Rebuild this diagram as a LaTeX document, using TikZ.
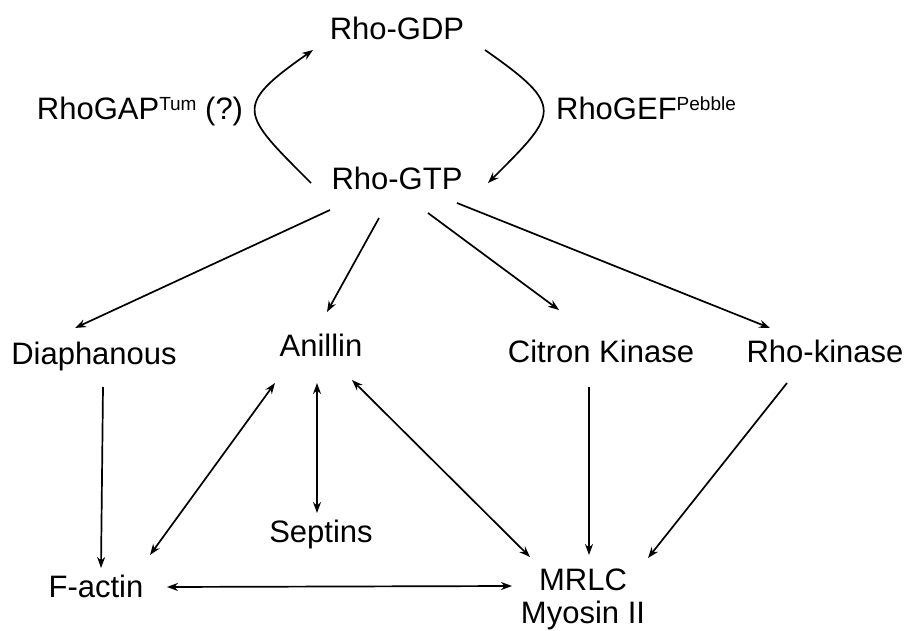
\documentclass[tikz,border=0pt]{standalone}
\usepackage{fontspec}
\setmainfont{Liberation Sans}
\usetikzlibrary{arrows.meta,positioning}

\newcommand{\suptag}[1]{\raisebox{9pt}{\fontsize{19}{19}\selectfont #1}}

\begin{document}
\begin{tikzpicture}[x=1pt,y=1pt,>={Stealth[length=11pt,width=8pt]},
  mol/.style={font=\fontsize{31}{33}\selectfont,inner sep=0pt,anchor=base},
  link/.style={line width=1.7pt}]

\useasboundingbox (0,0) rectangle (908,630);

% cycle
\node[mol] (gdp) at (397,590) {Rho-GDP};
\node[mol] (gtp) at (397,440) {Rho-GTP};
\node[mol] (gap) at (140,510) {RhoGAP\suptag{Tum} (?)};
\node[mol] (gef) at (646,510) {RhoGEF\suptag{Pebble}};

% effectors
\node[mol] (diaph) at (94,265) {Diaphanous};
\node[mol] (anillin) at (321,273) {Anillin};
\node[mol] (citron) at (601,267) {Citron Kinase};
\node[mol] (rhok) at (825,267) {Rho-kinase};

\node[mol] (septins) at (321,88) {Septins};
\node[mol] (factin) at (96,33) {F-actin};
\node[mol] (mrlc) at (583,40) {MRLC};
\node[mol,below=10pt of mrlc] (myosin) {Myosin II};

\draw[link,->] ([shift={(-86,7)}]gtp.base) to[out=135,in=215,looseness=1.9] ([shift={(-84,-10)}]gdp.base);
\draw[link,->] ([shift={(88,-10)}]gdp.base) to[out=-35,in=45,looseness=1.9] ([shift={(91,7)}]gtp.base);

\draw[link,->] ([shift={(-67,-20)}]gtp.base) -- ([shift={(-19,37)}]diaph.base);
\draw[link,->] ([shift={(-18,-28)}]gtp.base) -- ([shift={(6,45)}]anillin.base);
\draw[link,->] ([shift={(31,-23)}]gtp.base) -- ([shift={(-42,53)}]citron.base);
\draw[link,->] ([shift={(60,-13)}]gtp.base) -- ([shift={(-55,35)}]rhok.base);

\draw[link,->] ([shift={(9,-22)}]diaph.base) -- ([shift={(5,29)}]factin.base);
\draw[link,<->] ([shift={(-46,-26)}]anillin.base) -- ([shift={(54,42)}]factin.base);
\draw[link,<->] ([shift={(-4,-26)}]anillin.base) -- ([shift={(-4,29)}]septins.base);
\draw[link,<->] ([shift={(31,-23)}]anillin.base) -- ([shift={(-53,33)}]mrlc.base);
\draw[link,->] ([shift={(-12,-24)}]citron.base) -- ([shift={(6,35)}]mrlc.base);
\draw[link,->] ([shift={(-38,-20)}]rhok.base) -- ([shift={(65,32)}]mrlc.base);
\draw[link,<->] ([shift={(71,10)}]factin.base) -- ([shift={(-71,4)}]mrlc.base);

\end{tikzpicture}
\end{document}
